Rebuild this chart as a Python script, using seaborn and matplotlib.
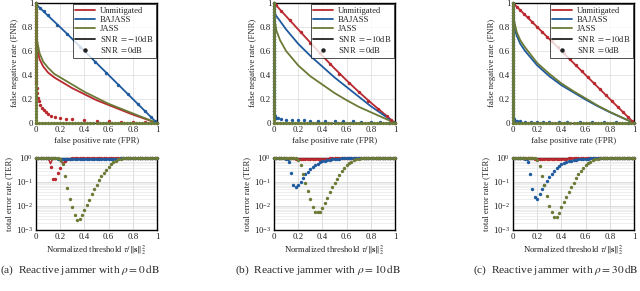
import matplotlib
matplotlib.use("Agg")
import pandas as pd
import seaborn as sns
from matplotlib import pyplot as plt
from matplotlib.lines import Line2D
from matplotlib.ticker import LogLocator, NullFormatter

sns.set_theme(style="white")
plt.rcParams['font.family'] = ['Liberation Serif', 'DejaVu Serif']
plt.rcParams['mathtext.fontset'] = 'stix'

RED = "#b8282e"
BLUE = "#1f5a9e"
OLIVE = "#6b7a36"

# dense dots hugging the axes of the ROC plots (JASS at 0 dB)
AXIS_LEG = [0.0, 0.025, 0.05, 0.075, 0.1, 0.125, 0.15, 0.175, 0.2, 0.225, 0.25,
            0.275, 0.3, 0.325, 0.35, 0.375, 0.4, 0.425, 0.45, 0.475, 0.5, 0.525,
            0.55, 0.575, 0.6, 0.625, 0.65, 0.675, 0.7, 0.725, 0.75, 0.775, 0.8,
            0.825, 0.85, 0.875, 0.9, 0.925, 0.95, 0.975, 1.0]

# ---- ROC, SNR = -10 dB (lines) ----
UNMIT_A_FPR = [0.0, 0.0, 0.01, 0.03, 0.06, 0.1, 0.15, 0.2, 0.3, 0.4, 0.5, 0.6, 0.7, 0.8, 0.9, 1.0]
UNMIT_A_FNR = [1.0, 0.72, 0.62, 0.53, 0.47, 0.42, 0.38, 0.35, 0.29, 0.24, 0.19, 0.15, 0.11, 0.07, 0.035, 0.0]
JASS_A_FPR = [0.0, 0.0, 0.01, 0.03, 0.06, 0.1, 0.15, 0.2, 0.3, 0.4, 0.5, 0.6, 0.7, 0.8, 0.9, 1.0]
JASS_A_FNR = [1.0, 0.78, 0.68, 0.58, 0.51, 0.46, 0.41, 0.38, 0.32, 0.26, 0.21, 0.16, 0.12, 0.08, 0.04, 0.0]
BAJASS_A_FPR = [0.0, 0.25, 0.5, 0.75, 1.0]
BAJASS_A_FNR = [0.99, 0.75, 0.5, 0.25, 0.0]

UNMIT_B_FPR = [0.0, 0.1, 0.2, 0.3, 0.4, 0.5, 0.6, 0.7, 0.8, 0.9, 1.0]
UNMIT_B_FNR = [1.0, 0.89, 0.78, 0.67, 0.56, 0.455, 0.355, 0.26, 0.17, 0.085, 0.0]
BAJASS_B_FPR = [0.0, 0.0, 0.02, 0.05, 0.1, 0.2, 0.3, 0.4, 0.5, 0.6, 0.7, 0.8, 0.9, 1.0]
BAJASS_B_FNR = [1.0, 0.93, 0.89, 0.85, 0.78, 0.66, 0.56, 0.47, 0.38, 0.3, 0.22, 0.14, 0.07, 0.0]
JASS_B_FPR = [0.0, 0.0, 0.005, 0.02, 0.05, 0.1, 0.2, 0.3, 0.4, 0.5, 0.6, 0.7, 0.8, 0.9, 1.0]
JASS_B_FNR = [1.0, 0.9, 0.86, 0.77, 0.69, 0.6, 0.48, 0.39, 0.32, 0.25, 0.19, 0.135, 0.09, 0.045, 0.0]

UNMIT_C_FPR = [0.0, 0.5, 1.0]
UNMIT_C_FNR = [1.0, 0.5, 0.0]
BAJASS_C_FPR = [0.0, 0.0, 0.01, 0.03, 0.06, 0.1, 0.2, 0.3, 0.4, 0.5, 0.6, 0.7, 0.8, 0.9, 1.0]
BAJASS_C_FNR = [1.0, 0.88, 0.8, 0.73, 0.66, 0.6, 0.48, 0.39, 0.315, 0.255, 0.195, 0.14, 0.09, 0.045, 0.0]
JASS_C_FPR = [0.0, 0.0, 0.01, 0.03, 0.06, 0.1, 0.2, 0.3, 0.4, 0.5, 0.6, 0.7, 0.8, 0.9, 1.0]
JASS_C_FNR = [1.0, 0.92, 0.85, 0.76, 0.69, 0.63, 0.5, 0.41, 0.33, 0.265, 0.205, 0.145, 0.093, 0.046, 0.0]

# ---- ROC, SNR = 0 dB (dots) ----
UNMIT0_A_FPR = [0.003, 0.006, 0.01, 0.017, 0.025, 0.035, 0.05, 0.065, 0.08, 0.1, 0.125,
                0.16, 0.2, 0.25, 0.3, 0.4, 0.5, 0.6, 0.7, 0.8, 0.9, 1.0]
UNMIT0_A_FNR = [0.33, 0.29, 0.25, 0.21, 0.18, 0.15, 0.125, 0.105, 0.09, 0.075, 0.062,
                0.05, 0.04, 0.035, 0.03, 0.025, 0.02, 0.015, 0.012, 0.01, 0.005, 0.0]
BAJASS0_A_FPR = [0.0, 0.03, 0.07, 0.1, 0.17, 0.26, 0.36, 0.49, 0.58, 0.68, 0.76, 0.84, 0.9, 0.95, 0.98, 1.0]
BAJASS0_A_FNR = [1.0, 0.96, 0.93, 0.9, 0.82, 0.74, 0.63, 0.51, 0.42, 0.32, 0.24, 0.16, 0.1, 0.05, 0.02, 0.0]

UNMIT0_B_FPR = [0.0, 0.02, 0.06, 0.13, 0.22, 0.3, 0.38, 0.46, 0.54, 0.62, 0.7, 0.78, 0.86, 0.93, 0.97, 1.0]
UNMIT0_B_FNR = [1.0, 0.98, 0.935, 0.855, 0.755, 0.67, 0.58, 0.495, 0.41, 0.33, 0.255, 0.18, 0.115, 0.055, 0.025, 0.0]
BAJASS0_B_FPR = [0.005, 0.012, 0.02, 0.035, 0.06, 0.1, 0.15, 0.2, 0.25, 0.3, 0.36, 0.42, 0.5,
                 0.57, 0.65, 0.72, 0.8, 0.88, 0.95, 1.0]
BAJASS0_B_FNR = [0.06, 0.05, 0.045, 0.038, 0.032, 0.028, 0.025, 0.023, 0.022, 0.02, 0.019, 0.018,
                 0.017, 0.015, 0.013, 0.011, 0.009, 0.006, 0.003, 0.0]

UNMIT0_C_FPR = [0.0, 0.03, 0.06, 0.09, 0.12, 0.16, 0.2, 0.24, 0.28, 0.32, 0.37, 0.42, 0.47,
                0.52, 0.57, 0.62, 0.67, 0.72, 0.77, 0.82, 0.87, 0.91, 0.95, 0.98, 1.0]
UNMIT0_C_FNR = [1.0, 0.97, 0.94, 0.91, 0.88, 0.84, 0.8, 0.76, 0.72, 0.68, 0.63, 0.58, 0.53,
                0.48, 0.43, 0.38, 0.33, 0.28, 0.23, 0.18, 0.13, 0.09, 0.05, 0.02, 0.0]
BAJASS0_C_FPR = [0.005, 0.012, 0.02, 0.035, 0.06, 0.1, 0.15, 0.2, 0.25, 0.3, 0.38, 0.45,
                 0.55, 0.65, 0.75, 0.85, 0.95, 1.0]
BAJASS0_C_FNR = [0.03, 0.022, 0.018, 0.015, 0.013, 0.012, 0.011, 0.011, 0.01, 0.01, 0.01,
                 0.009, 0.009, 0.008, 0.007, 0.005, 0.003, 0.0]

# ---- TER vs normalized threshold ----
THRESH = [0.0, 0.02, 0.04, 0.06, 0.08, 0.1, 0.12, 0.14, 0.16, 0.18, 0.2, 0.22, 0.24,
          0.26, 0.28, 0.3, 0.32, 0.34, 0.36, 0.38, 0.4, 0.42, 0.44, 0.46, 0.48, 0.5,
          0.52, 0.54, 0.56, 0.58, 0.6, 0.62, 0.64, 0.66, 0.68, 0.7, 0.72, 0.74, 0.76,
          0.78, 0.8, 0.82, 0.84, 0.86, 0.88, 0.9, 0.92, 0.94, 0.96, 0.98, 1.0]

TER_UNMIT_A = [1, 1, 1, 1, 1, 1, 0.41, 0.138, 0.138, 0.24, 0.4, 0.6, 0.76, 0.88, 0.95,
               1, 1, 1, 1, 1, 1, 1, 1, 1, 1, 1, 1, 1, 1, 1, 1, 1, 1, 1, 1, 1,
               1, 1, 1, 1, 1, 1, 1, 1, 1, 1, 1, 1, 1, 1, 1]
TER_BAJASS_A = [1, 1, 1, 1, 1, 1, 1, 1, 1, 0.94, 0.93, 0.93, 0.93, 0.93, 0.93, 0.93, 0.93,
                0.93, 0.93, 0.93, 0.93, 0.93, 0.93, 0.93, 0.93, 0.93, 0.93, 0.93, 0.93, 0.93,
                0.93, 0.93, 0.93, 0.94, 0.95, 0.97, 0.98, 0.99, 1, 1, 1, 1, 1, 1, 1, 1,
                1, 1, 1, 1, 1]
TER_JASS_A = [1, 1, 1, 1, 1, 1, 1, 1, 1, 1, 0.88, 0.55, 0.18, 0.055, 0.0195, 0.0091, 0.0041,
              0.0025, 0.0028, 0.0042, 0.0066, 0.011, 0.018, 0.031, 0.05, 0.078, 0.117, 0.17,
              0.24, 0.33, 0.44, 0.55, 0.66, 0.78, 0.88, 0.95, 0.98, 1, 1, 1, 1, 1, 1, 1,
              1, 1, 1, 1, 1, 1, 1]

TER_UNMIT_B = [1, 1, 1, 1, 1, 1, 1, 1, 1, 0.95, 0.92, 0.92, 0.92, 0.92, 0.92, 0.92, 0.92,
               0.92, 0.92, 0.92, 0.92, 0.93, 0.95, 0.98, 1, 1, 1, 1, 1, 1, 1, 1, 1, 1, 1,
               1, 1, 1, 1, 1, 1, 1, 1, 1, 1, 1, 1, 1, 1, 1, 1]
TER_BAJASS_B = [1, 1, 1, 1, 1, 0.95, 0.68, 0.23, 0.078, 0.06, 0.078, 0.10, 0.15, 0.21, 0.27,
                0.35, 0.44, 0.51, 0.58, 0.66, 0.72, 0.77, 0.82, 0.86, 0.89, 0.91, 0.93, 0.95,
                0.96, 0.97, 0.98, 0.99, 1, 1, 1, 1, 1, 1, 1, 1, 1, 1, 1, 1, 1, 1, 1, 1,
                1, 1, 1]
TER_JASS_B = [1, 1, 1, 1, 1, 1, 1, 1, 1, 1, 0.85, 0.49, 0.21, 0.088, 0.041, 0.02, 0.0093,
              0.0055, 0.0055, 0.0055, 0.008, 0.0138, 0.022, 0.037, 0.06, 0.093, 0.138, 0.2,
              0.29, 0.38, 0.49, 0.6, 0.7, 0.8, 0.88, 0.94, 0.98, 1, 1, 1, 1, 1, 1, 1,
              1, 1, 1, 1, 1, 1, 1]

TER_UNMIT_C = [1, 1, 1, 1, 1, 1, 1, 1, 1, 0.95, 0.92, 0.92, 0.92, 0.92, 0.92, 0.92, 0.92,
               0.92, 0.92, 0.92, 0.92, 0.93, 0.95, 0.98, 1, 1, 1, 1, 1, 1, 1, 1, 1, 1, 1,
               1, 1, 1, 1, 1, 1, 1, 1, 1, 1, 1, 1, 1, 1, 1, 1]
TER_BAJASS_C = [1, 1, 1, 1, 1, 0.93, 0.7, 0.21, 0.051, 0.023, 0.019, 0.031, 0.051, 0.078,
                0.114, 0.16, 0.22, 0.3, 0.38, 0.47, 0.55, 0.62, 0.68, 0.73, 0.78, 0.82, 0.86,
                0.88, 0.9, 0.92, 0.94, 0.95, 0.96, 0.97, 0.98, 0.99, 1, 1, 1, 1, 1, 1, 1,
                1, 1, 1, 1, 1, 1, 1, 1]
TER_JASS_C = [1, 1, 1, 1, 1, 1, 1, 1, 1, 1, 0.8, 0.47, 0.18, 0.078, 0.027, 0.01, 0.0058,
              0.0036, 0.0036, 0.0051, 0.0088, 0.014, 0.023, 0.038, 0.062, 0.094, 0.14, 0.21,
              0.29, 0.38, 0.49, 0.6, 0.7, 0.8, 0.88, 0.95, 0.98, 1, 1, 1, 1, 1, 1, 1,
              1, 1, 1, 1, 1, 1, 1]

# SNR = -10 dB TER lines (close to one, with small notches)
TL_UNMIT_A_X = [0.0, 0.1, 0.12, 0.14, 0.2, 0.22, 0.24, 1.0]
TL_UNMIT_A_Y = [1.0, 1.0, 0.58, 1.0, 1.0, 0.8, 1.0, 1.0]
TL_BAJASS_A_X = [0.0, 0.15, 0.2, 0.7, 0.75, 1.0]
TL_BAJASS_A_Y = [1.0, 1.0, 0.94, 0.94, 1.0, 1.0]
TL_JASS_A_X = [0.0, 0.18, 0.21, 0.23, 1.0]
TL_JASS_A_Y = [1.0, 1.0, 0.65, 1.0, 1.0]

TL_UNMIT_B_X = [0.0, 0.18, 0.22, 0.45, 0.5, 1.0]
TL_UNMIT_B_Y = [1.0, 1.0, 0.92, 0.93, 1.0, 1.0]
TL_BAJASS_B_X = [0.0, 0.1, 0.12, 0.14, 0.2, 0.6, 0.7, 1.0]
TL_BAJASS_B_Y = [1.0, 1.0, 0.78, 0.9, 0.95, 0.98, 1.0, 1.0]
TL_JASS_B_X = [0.0, 0.18, 0.22, 0.26, 0.3, 1.0]
TL_JASS_B_Y = [1.0, 1.0, 0.8, 0.9, 1.0, 1.0]

TL_UNMIT_C_X = [0.0, 0.18, 0.22, 0.45, 0.5, 1.0]
TL_UNMIT_C_Y = [1.0, 1.0, 0.92, 0.93, 1.0, 1.0]
TL_BAJASS_C_X = [0.0, 0.1, 0.12, 0.14, 0.2, 0.6, 0.7, 1.0]
TL_BAJASS_C_Y = [1.0, 1.0, 0.8, 0.9, 0.95, 0.98, 1.0, 1.0]
TL_JASS_C_X = [0.0, 0.18, 0.22, 0.26, 0.3, 1.0]
TL_JASS_C_Y = [1.0, 1.0, 0.85, 0.92, 1.0, 1.0]

CAPTIONS = [r"(a)  Reactive jammer with $\rho = 0\,\mathrm{dB}$",
            r"(b)  Reactive jammer with $\rho = 10\,\mathrm{dB}$",
            r"(c)  Reactive jammer with $\rho = 30\,\mathrm{dB}$"]
ROC_TICKS = [0, 0.2, 0.4, 0.6, 0.8, 1.0]
ROC_LABELS = ["0", "0.2", "0.4", "0.6", "0.8", "1"]


def vertical_leg(cut):
    # dots stacked along FPR = 0 from FNR = 1 down to the cut value
    ys = [v for v in AXIS_LEG if v >= cut]
    return [0.0] * len(ys), ys


def hug_axes():
    vx, vy = vertical_leg(0.0)
    return vx + AXIS_LEG, vy + [0.0] * len(AXIS_LEG)


def style_axes(ax):
    for sp in ax.spines.values():
        sp.set_color("black")
        sp.set_linewidth(1.0)
    ax.tick_params(labelsize=6.4, length=2, width=0.6, direction="in", pad=2,
                   colors="#222222")


def draw_line(ax, x, y, color, lw=1.3, z=2):
    df = pd.DataFrame({"x": x, "y": y})
    sns.lineplot(data=df, x="x", y="y", ax=ax, color=color, linewidth=lw,
                 estimator=None, sort=False, zorder=z)


def draw_dots(ax, x, y, color, z=3):
    df = pd.DataFrame({"x": x, "y": y})
    sns.scatterplot(data=df, x="x", y="y", ax=ax, color=color, s=6, linewidth=0,
                    clip_on=False, zorder=z)


fig = plt.figure(figsize=(6.4, 2.91), dpi=100)

lefts = [36 / 640, 274 / 640, 513 / 640]
w = 121 / 640
top_rect_y, top_h = 1 - 123 / 291, 120 / 291
bot_rect_y, bot_h = 1 - 230 / 291, 72 / 291
cap_x = [80 / 640, 318 / 640, 556 / 640]

roc_lines = [
    [(UNMIT_A_FPR, UNMIT_A_FNR), (BAJASS_A_FPR, BAJASS_A_FNR), (JASS_A_FPR, JASS_A_FNR)],
    [(UNMIT_B_FPR, UNMIT_B_FNR), (BAJASS_B_FPR, BAJASS_B_FNR), (JASS_B_FPR, JASS_B_FNR)],
    [(UNMIT_C_FPR, UNMIT_C_FNR), (BAJASS_C_FPR, BAJASS_C_FNR), (JASS_C_FPR, JASS_C_FNR)],
]

ux, uy = vertical_leg(0.35)
bx, by = vertical_leg(0.06)
cx, cy = vertical_leg(0.03)
jx, jy = hug_axes()
roc_dots = [
    [(ux + UNMIT0_A_FPR, uy + UNMIT0_A_FNR), (BAJASS0_A_FPR, BAJASS0_A_FNR), (jx, jy)],
    [(UNMIT0_B_FPR, UNMIT0_B_FNR), (bx + BAJASS0_B_FPR, by + BAJASS0_B_FNR), (jx, jy)],
    [(UNMIT0_C_FPR, UNMIT0_C_FNR), (cx + BAJASS0_C_FPR, cy + BAJASS0_C_FNR), (jx, jy)],
]

ter_lines = [
    [(TL_UNMIT_A_X, TL_UNMIT_A_Y), (TL_BAJASS_A_X, TL_BAJASS_A_Y), (TL_JASS_A_X, TL_JASS_A_Y)],
    [(TL_UNMIT_B_X, TL_UNMIT_B_Y), (TL_BAJASS_B_X, TL_BAJASS_B_Y), (TL_JASS_B_X, TL_JASS_B_Y)],
    [(TL_UNMIT_C_X, TL_UNMIT_C_Y), (TL_BAJASS_C_X, TL_BAJASS_C_Y), (TL_JASS_C_X, TL_JASS_C_Y)],
]
ter_dots = [
    [TER_UNMIT_A, TER_BAJASS_A, TER_JASS_A],
    [TER_UNMIT_B, TER_BAJASS_B, TER_JASS_B],
    [TER_UNMIT_C, TER_BAJASS_C, TER_JASS_C],
]
colors = [RED, BLUE, OLIVE]

legend_handles = [
    Line2D([], [], color=RED, lw=1.3, label="Unmitigated"),
    Line2D([], [], color=BLUE, lw=1.3, label="BAJASS"),
    Line2D([], [], color=OLIVE, lw=1.3, label="JASS"),
    Line2D([], [], color="#222222", lw=1.3, label=r"SNR $= -10$dB"),
    Line2D([], [], color="#222222", lw=0, marker="o", markersize=2.2,
           label=r"SNR $= 0$dB"),
]

for k in range(3):
    # ROC
    ax = fig.add_axes([lefts[k], top_rect_y, w, top_h])
    for (x, y), c in zip(roc_lines[k], colors):
        draw_line(ax, x, y, c)
    for (x, y), c in zip(roc_dots[k], colors):
        draw_dots(ax, x, y, c, z=4)
    ax.set_xlim(0, 1)
    ax.set_ylim(0, 1)
    ax.set_xticks(ROC_TICKS)
    ax.set_xticklabels(ROC_LABELS)
    ax.set_yticks(ROC_TICKS)
    ax.set_yticklabels(ROC_LABELS)
    ax.grid(True, color="#dcdcdc", linewidth=0.5)
    ax.set_axisbelow(True)
    ax.set_xlabel("false positive rate (FPR)", fontsize=6.2, labelpad=2)
    ax.set_ylabel("false negative rate (FNR)", fontsize=6.2, labelpad=2)
    style_axes(ax)
    leg = ax.legend(handles=legend_handles, loc="upper right", fontsize=6.2,
                    frameon=True, fancybox=False, borderpad=0.3, labelspacing=0.12,
                    handlelength=2.3, handletextpad=0.5, borderaxespad=0.15)
    leg.get_frame().set_edgecolor("black")
    leg.get_frame().set_linewidth(0.6)
    leg.set_zorder(10)

    # TER
    bx_ = fig.add_axes([lefts[k], bot_rect_y, w, bot_h])
    for (x, y), c in zip(ter_lines[k], colors):
        draw_line(bx_, x, y, c, lw=1.1)
    for y, c in zip(ter_dots[k], colors):
        draw_dots(bx_, THRESH, y, c, z=4)
    bx_.set_yscale("log")
    bx_.set_xlim(0, 1)
    bx_.set_ylim(1e-3, 1)
    bx_.set_xticks(ROC_TICKS)
    bx_.set_xticklabels(ROC_LABELS)
    bx_.yaxis.set_major_locator(LogLocator(base=10, numticks=5))
    bx_.yaxis.set_minor_locator(LogLocator(base=10, subs=range(2, 10), numticks=10))
    bx_.yaxis.set_minor_formatter(NullFormatter())
    bx_.grid(True, which="major", color="#d0d0d0", linewidth=0.5)
    bx_.grid(True, which="minor", axis="y", color="#e2e2e2", linewidth=0.4)
    bx_.set_axisbelow(True)
    bx_.set_xlabel(r"Normalized threshold $\tau/\|\mathbf{s}\|_2^2$", fontsize=6.2, labelpad=2)
    bx_.set_ylabel("total error rate (TER)", fontsize=6.2, labelpad=2)
    style_axes(bx_)
    bx_.tick_params(which="minor", length=0)

    fig.text(cap_x[k], 1 - 270 / 291, CAPTIONS[k], ha="center", va="center",
             fontsize=8.2)

fig.savefig("out.png", dpi=100)
